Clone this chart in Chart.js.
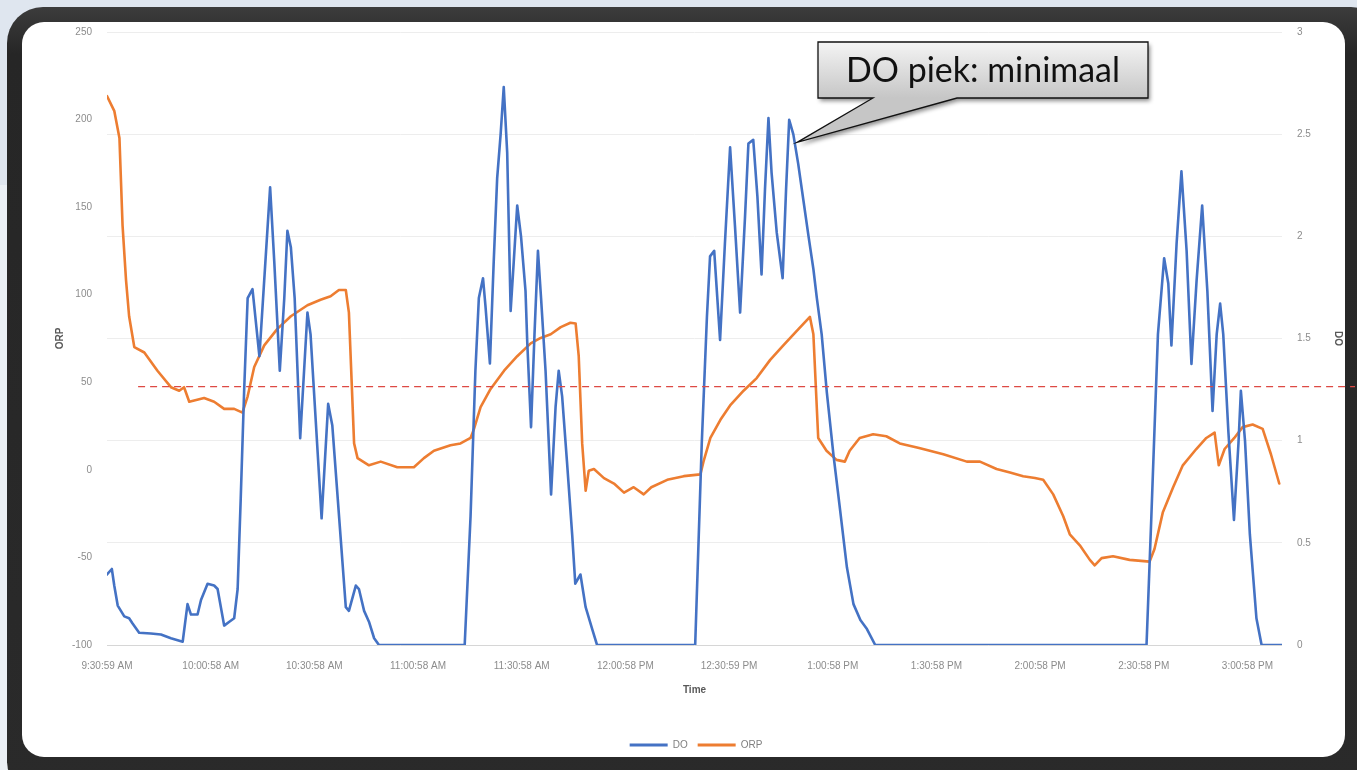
<!DOCTYPE html>
<html>
<head>
<meta charset="utf-8">
<script src="https://cdn.jsdelivr.net/npm/chart.js@4.4.1/dist/chart.umd.min.js"></script>
<style>
  html, body { margin: 0; padding: 0; width: 1357px; height: 770px; overflow: hidden; background: #dfe6ef; }
  #lower { position: absolute; left: 0; top: 185px; width: 20px; height: 600px; background: #ebf0f5; }
  #frame { position: absolute; left: 7px; top: 7px; width: 1380px; height: 790px;
           background: linear-gradient(#3c3c3c, #262626 6%, #2a2a2a); border-radius: 36px; }
  #inner { position: absolute; left: 22px; top: 22px; width: 1323px; height: 735px;
           background: #ffffff; border-radius: 22px; }
  #wrap { position: absolute; left: 0; top: 0; width: 1357px; height: 770px; }
</style>
</head>
<body>
<div id="lower"></div>
<div id="frame"></div>
<div id="inner"></div>
<div id="wrap"><canvas id="c" width="1357" height="770"></canvas></div>
<script>
// ---- data (minutes after 9:30:59 AM) ----
const timeLabels = ["9:30:59 AM","10:00:58 AM","10:30:58 AM","11:00:58 AM","11:30:58 AM","12:00:58 PM",
                    "12:30:59 PM","1:00:58 PM","1:30:58 PM","2:00:58 PM","2:30:58 PM","3:00:58 PM"];
const tickMinutes = [0,30,60,90,120,150,180,210,240,270,300,330];

const doTime = [0,1.4,2.1,3.1,5.0,6.4,7.4,9.3,12.7,15.6,18.5,21.9,23.3,24.3,26.2,27.2,29.1,31,32,33.9,35.4,36.8,37.8,
  38.7,39.7,40.7,42.1,44.1,45.5,47.2,48.4,50.0,51.3,52.2,53.2,54.3,55.9,58,58.9,62.1,64,65.2,69.1,70,72,72.9,74.4,75.8,77.3,78.7,
  103.5,105.2,106.6,107.6,108.8,109.5,110.8,111.9,112.9,113.9,114.8,115.8,116.8,117.7,118.7,119.8,121.1,121.6,122.7,123.7,124.7,
  125.6,126.9,128.5,129.8,130.7,131.7,133.1,134.6,135.5,137,138.5,140.4,141.8,
  170.2,172.1,173.6,174.5,175.7,177.4,178.8,180.3,181.7,183.2,184.6,185.6,187,188.2,189.4,190.4,191.4,192.3,193.8,195.5,196.5,
  197.4,198.6,200,201.5,203,204.4,205.4,206.8,208.3,210.2,212.1,214.1,216,218,219.9,222.3,
  300.8,302.2,304.1,305.9,307.1,308,309.5,310.9,312.4,313.8,315.3,316.9,318.4,319.9,321.1,322.1,323,324.5,326.1,327.4,328.1,
  329.3,330.7,332.6,334.1,340];
const doValue = [0.345,0.372,0.291,0.193,0.14,0.131,0.105,0.06,0.056,0.051,0.033,0.016,0.2,0.149,0.149,0.22,0.3,0.291,0.274,0.095,0.114,0.131,0.274,
  0.719,1.253,1.698,1.742,1.413,1.787,2.24,1.876,1.342,1.698,2.027,1.947,1.698,1.012,1.627,1.52,0.62,1.18,1.074,0.185,0.167,0.291,0.274,0.167,0.114,0.033,0,
  0,0.63,1.342,1.698,1.795,1.662,1.378,1.876,2.285,2.499,2.73,2.41,1.635,1.876,2.151,2.0,1.733,1.484,1.066,1.52,1.929,
  1.698,1.342,0.737,1.165,1.342,1.217,0.897,0.541,0.3,0.345,0.185,0.078,0,
  0,0.986,1.608,1.902,1.929,1.493,1.965,2.436,2.054,1.627,2.089,2.454,2.472,2.196,1.813,2.231,2.579,2.312,2.018,1.795,2.231,
  2.57,2.499,2.356,2.178,2.0,1.84,1.698,1.52,1.235,0.932,0.665,0.38,0.2,0.122,0.078,0,
  0,0.63,1.52,1.893,1.769,1.466,1.965,2.318,1.929,1.375,1.787,2.151,1.733,1.146,1.52,1.671,1.52,1.04,0.612,0.986,1.244,
  0.999,0.541,0.131,0,0];

const orpTime = [0,2.1,3.6,4.5,5.5,6.4,7.9,10.8,14.6,18.5,20.9,22.3,23.8,28.1,31,33.9,36.8,39.2,40.7,42.6,45.5,49.3,53.2,58,61.8,
  64.7,67.1,69.1,70,71.5,72.5,75.8,79.2,84,88.8,91.7,94.6,99.4,102.3,105.2,106.2,108.1,111,114.9,118.7,122.6,125.5,128.4,131.3,
  134.1,135.6,136.5,137.5,138.5,139.4,140.9,143.8,146.7,149.6,152.4,155.3,157.5,162.1,166.9,171.7,172.6,174.6,177.5,180.3,184.2,
  188,191.9,195.7,199.6,203.4,204.4,205.8,208.2,211.1,213.5,214.9,217.8,221.7,225.5,229.4,235,242,248.8,252.6,257.4,261.3,265.1,
  268.5,270.9,273.8,276.7,278.6,281.5,284.4,285.8,287.8,291.1,295.9,301.7,303.1,305.5,308.5,311.3,315.2,318.1,320.5,321.7,323.4,
  326.2,328.6,331.5,334.4,336.8,339.2];
const orpValue = [213.4,205,189.5,139.6,108.5,87.7,70.1,67,56.6,47.2,45.2,47.2,38.9,41,38.9,34.8,34.8,32.7,42,58.7,71.1,80.5,87.7,94,97.1,
  99.1,102.7,102.7,89.8,15.1,6.7,2.6,4.7,1.5,1.5,6.7,10.9,14,15.1,18.2,23.4,35.8,46.2,56.6,64.9,72.2,75.3,77.4,81.5,
  84,83.6,64.9,15.1,-11.9,-0.5,0.5,-4.7,-7.8,-13,-9.9,-14,-9.9,-5.7,-3.6,-2.6,4.7,18.2,28.6,36.8,45.2,
  52.4,62.8,71.1,79.4,87.3,77.4,18.2,10.9,5.7,4.7,10.9,18.2,20.3,19.2,15.1,12.5,8.9,4.7,4.7,0.5,-1.5,-3.6,
  -4.7,-5.7,-14,-26.5,-36.8,-43.1,-51.4,-54.5,-50.4,-49.3,-51.4,-52.4,-45.2,-24.4,-9.9,2.6,11.9,18.2,21.3,2.6,11.9,
  18.2,24.4,25.9,23.4,8.9,-7.8];

const thresholdORP = 47.5;
const calloutText = "DO piek: minimaal";
const calloutTarget = { x: 199.7, y: 2.46 };

const tickFont = { family: "'Liberation Sans', Arial, sans-serif", size: 10 };
const titleFont = { family: "'Liberation Sans', Arial, sans-serif", size: 10, weight: "bold" };

const overlay = {
  id: "overlay",
  afterDatasetsDraw(chart) {
    const ctx = chart.ctx, y = chart.scales.y, x = chart.scales.x;
    const py = y.getPixelForValue(thresholdORP);
    ctx.save();
    ctx.strokeStyle = "#dd4a44";
    ctx.lineWidth = 1.3;
    ctx.setLineDash([7, 5]);
    ctx.beginPath();
    ctx.moveTo(x.getPixelForValue(9), py);
    ctx.lineTo(chart.width - 2, py);
    ctx.stroke();
    ctx.restore();
  },
  afterDraw(chart) {
    const ctx = chart.ctx;
    const tx = chart.scales.x.getPixelForValue(calloutTarget.x);
    const ty = chart.scales.y1.getPixelForValue(calloutTarget.y);
    const x0 = 818, y0 = 42, x1 = 1148, y1 = 98;
    const b0 = 873, b1 = 957;
    ctx.save();
    ctx.beginPath();
    ctx.moveTo(x0, y0); ctx.lineTo(x1, y0); ctx.lineTo(x1, y1);
    ctx.lineTo(b1, y1); ctx.lineTo(tx, ty); ctx.lineTo(b0, y1);
    ctx.lineTo(x0, y1); ctx.closePath();
    const g = ctx.createLinearGradient(0, y0, 0, y1);
    g.addColorStop(0, "#f4f4f4"); g.addColorStop(1, "#c6c6c6");
    ctx.shadowColor = "rgba(0,0,0,0.45)";
    ctx.shadowBlur = 4; ctx.shadowOffsetX = 2; ctx.shadowOffsetY = 3;
    ctx.fillStyle = g;
    ctx.fill();
    ctx.shadowColor = "transparent";
    ctx.lineWidth = 1.3;
    ctx.strokeStyle = "#111";
    ctx.lineJoin = "miter";
    ctx.stroke();
    let fs = 26;
    ctx.font = fs + "px Lato, 'Open Sans', sans-serif";
    const w = ctx.measureText(calloutText).width;
    fs = fs * 274 / w;
    ctx.font = fs + "px Lato, 'Open Sans', sans-serif";
    ctx.fillStyle = "#111";
    ctx.textAlign = "center";
    ctx.textBaseline = "middle";
    ctx.fillText(calloutText, (x0 + x1) / 2, (y0 + y1) / 2 + 1);
    ctx.restore();
  }
};

new Chart(document.getElementById("c"), {
  type: "line",
  data: {
    datasets: [
      { label: "DO", data: doTime.map((t, i) => ({ x: t, y: doValue[i] })), yAxisID: "y1",
        borderColor: "#4472c4", backgroundColor: "#4472c4", borderWidth: 2.6, pointRadius: 0,
        tension: 0, borderJoinStyle: "round", borderCapStyle: "round" },
      { label: "ORP", data: orpTime.map((t, i) => ({ x: t, y: orpValue[i] })), yAxisID: "y",
        borderColor: "#ed7d31", backgroundColor: "#ed7d31", borderWidth: 2.6, pointRadius: 0,
        tension: 0, borderJoinStyle: "round", borderCapStyle: "round" }
    ]
  },
  options: {
    responsive: false,
    animation: false,
    events: [],
    layout: { padding: { left: 40, right: 5, top: 32, bottom: 10 } },
    plugins: {
      tooltip: { enabled: false },
      legend: {
        position: "bottom",
        labels: {
          boxWidth: 38, boxHeight: 3, padding: 10, color: "#7f7f7f", font: tickFont,
          generateLabels: (chart) => chart.data.datasets.map((ds, i) => ({
            text: ds.label, fillStyle: ds.borderColor, strokeStyle: ds.borderColor,
            lineWidth: 0, hidden: false, datasetIndex: i, fontColor: "#7f7f7f"
          }))
        }
      }
    },
    scales: {
      x: {
        type: "linear", position: "bottom", min: 0, max: 340,
        grid: { display: false, drawTicks: false },
        border: { display: false },
        afterBuildTicks: (s) => { s.ticks = tickMinutes.map(v => ({ value: v })); },
        afterFit: (s) => { s.height = 85; },
        ticks: { autoSkip: false, maxRotation: 0, padding: 15, color: "#8c8c8c", font: tickFont,
                 callback: (v, i) => timeLabels[i] },
        title: { display: true, text: "Time", color: "#595959", font: titleFont, padding: { top: 0, bottom: 34 } }
      },
      y: {
        position: "left", min: -100, max: 250,
        grid: { display: false, drawTicks: false },
        border: { display: false },
        afterFit: (s) => { s.width = 67; },
        ticks: { stepSize: 50, padding: 15, color: "#8c8c8c", font: tickFont, callback: (v) => String(v) },
        title: { display: true, text: "ORP", color: "#595959", font: titleFont, padding: { top: 14, bottom: 0 } }
      },
      y1: {
        position: "right", min: 0, max: 3,
        grid: { drawTicks: false, color: (c) => c.tick && c.tick.value === 0 ? "#d6d6d6" : "#ededed", lineWidth: 1 },
        border: { display: false },
        afterFit: (s) => { s.width = 70; },
        ticks: { stepSize: 0.5, padding: 15, color: "#8c8c8c", font: tickFont, callback: (v) => String(v) },
        title: { display: true, text: "DO", color: "#595959", font: titleFont, padding: { top: 8, bottom: 0 } }
      }
    }
  },
  plugins: [overlay]
});
</script>
</body>
</html>
